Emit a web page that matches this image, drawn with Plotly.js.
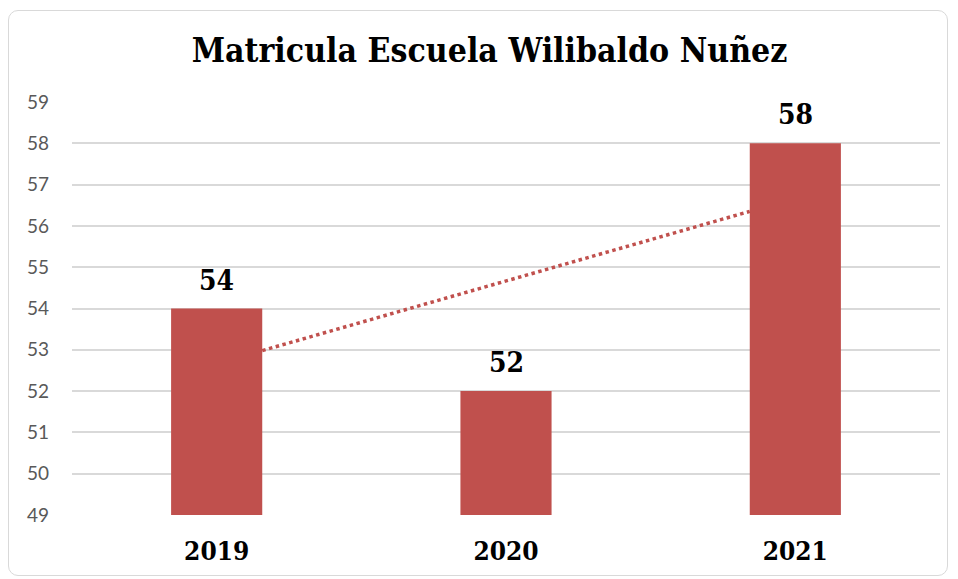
<!DOCTYPE html>
<html>
<head>
<meta charset="utf-8">
<script src="https://cdn.plot.ly/plotly-3.0.1.min.js"></script>
<style>
  body { margin: 0; background: #fff; }
  #wrap { position: relative; width: 958px; height: 579px; }
  #frame {
    position: absolute; left: 8px; top: 10px; width: 940px; height: 566px;
    border: 1px solid #d9d9d9; border-radius: 10px; box-sizing: border-box;
  }
  #chart { position: absolute; left: 0; top: 0; width: 958px; height: 579px; }
</style>
</head>
<body>
<div id="wrap">
  <div id="frame"></div>
  <div id="chart"></div>
</div>
<script>
// data
const years = ["2019", "2020", "2021"];
const matricula = [54, 52, 58];

const idx = years.map((_, i) => i);
const barColor = "#c0504d";
const barWidth = 0.315;

// linear trendline (least squares), drawn between the bar edges
function linearFit(xs, ys) {
  const n = xs.length;
  const mx = xs.reduce((a, b) => a + b, 0) / n;
  const my = ys.reduce((a, b) => a + b, 0) / n;
  let num = 0, den = 0;
  for (let i = 0; i < n; i++) {
    num += (xs[i] - mx) * (ys[i] - my);
    den += (xs[i] - mx) * (xs[i] - mx);
  }
  const slope = num / den;
  return (x) => my + slope * (x - mx);
}
const fit = linearFit(idx, matricula);
const trendX = [idx[0] + barWidth / 2, idx[idx.length - 1] - barWidth / 2];
const trendY = trendX.map(fit);

const bars = {
  x: idx,
  y: matricula,
  type: "bar",
  width: barWidth,
  marker: { color: barColor },
  hoverinfo: "x+y"
};

const trend = {
  x: trendX,
  y: trendY,
  mode: "lines",
  type: "scatter",
  line: { color: barColor, width: 3.5, dash: "dot" },
  hoverinfo: "skip"
};

const labels = idx.map((i) => ({
  x: i,
  y: matricula[i],
  text: "<b>" + matricula[i] + "</b>",
  showarrow: false,
  yanchor: "bottom",
  yshift: 10,
  font: { family: "DejaVu Serif Condensed", size: 28, color: "#000" }
}));

const layout = {
  width: 958,
  height: 579,
  paper_bgcolor: "rgba(0,0,0,0)",
  plot_bgcolor: "rgba(0,0,0,0)",
  margin: { l: 72, r: 18, t: 102, b: 64 },
  showlegend: false,
  title: {
    text: "<b>Matricula Escuela Wilibaldo Nuñez</b>",
    font: { family: "DejaVu Serif Condensed", size: 33.5, color: "#000" },
    x: 0.511,
    xanchor: "center",
    y: 0.913,
    yanchor: "middle"
  },
  xaxis: {
    range: [-0.5, 2.5],
    tickvals: idx,
    ticktext: years.map((y) => "<b>" + y + "</b>"),
    tickfont: { family: "DejaVu Serif Condensed", size: 26, color: "#000" },
    ticklabelstandoff: 18,
    showgrid: false,
    zeroline: false,
    showline: false,
    ticks: ""
  },
  yaxis: {
    range: [49, 59],
    dtick: 1,
    tickfont: { family: "Lato", size: 19, color: "#595959" },
    ticklabelstandoff: 22,
    gridcolor: "#d9d9d9",
    gridwidth: 1.5,
    zeroline: false,
    showline: false,
    ticks: ""
  },
  annotations: labels
};

Plotly.newPlot("chart", [bars, trend], layout, { displayModeBar: false });
</script>
</body>
</html>
